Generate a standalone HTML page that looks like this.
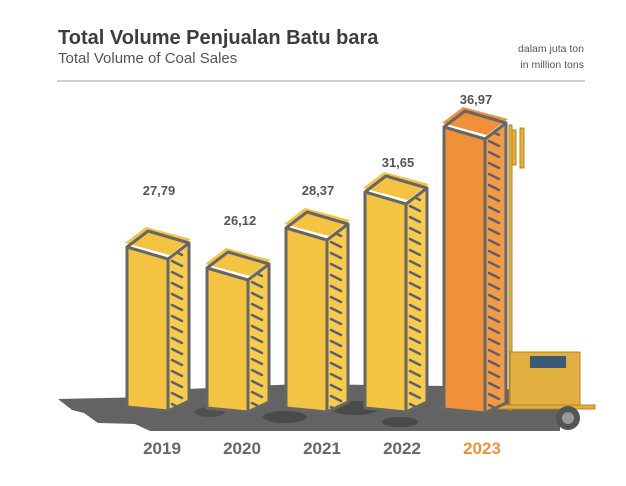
<!DOCTYPE html>
<html><head><meta charset="utf-8"><style>
body{margin:0;background:#fff;}
svg{display:block;font-family:"Liberation Sans",sans-serif;}
</style></head><body>
<svg width="626" height="486" viewBox="0 0 626 486">
<defs>
<pattern id="h" width="20" height="11" patternUnits="userSpaceOnUse">
<line x1="5" y1="3" x2="15" y2="8" stroke="#5c5f6e" stroke-width="2.5" stroke-linecap="round"/>
</pattern>
</defs>
<text x="58" y="44" font-size="20" font-weight="bold" fill="#3d3d3d">Total Volume Penjualan Batu bara</text>
<text x="58" y="63" font-size="15" fill="#555">Total Volume of Coal Sales</text>
<text x="584" y="52" font-size="10.5" fill="#555" text-anchor="end">dalam juta ton</text>
<text x="584" y="68" font-size="10.5" fill="#555" text-anchor="end">in million tons</text>
<line x1="57" y1="81" x2="585" y2="81" stroke="#cfcfcf" stroke-width="2"/>
<!-- ground -->
<path d="M58,399 L150,397 L165,390 L300,384 L450,386 L560,392 L560,431 L150,431 L135,424 L98,423 L84,413 L72,410 Z" fill="#636363"/>
<ellipse cx="285" cy="417" rx="22" ry="6" fill="#4a4a4a"/>
<ellipse cx="355" cy="408" rx="24" ry="7" fill="#4a4a4a"/>
<ellipse cx="400" cy="422" rx="18" ry="5" fill="#4a4a4a"/>
<ellipse cx="210" cy="412" rx="15" ry="5" fill="#505050"/>
<!-- trailer -->
<g fill="#e2b040" stroke="#b88420" stroke-width="1">
<rect x="509" y="125" width="3" height="285"/>
<rect x="512" y="130" width="4" height="35"/>
<rect x="520" y="128" width="4" height="40"/>
<rect x="510" y="352" width="70" height="55"/>
<rect x="455" y="405" width="140" height="4"/>
</g>
<rect x="530" y="356" width="36" height="12" fill="#3b5a78"/>
<circle cx="568" cy="418" r="12" fill="#555"/>
<circle cx="568" cy="418" r="6" fill="#999"/>
<!-- bars -->
<g stroke="#666" stroke-width="3" stroke-linejoin="round">
<g transform="translate(127,247)">
<path d="M-2,-4 L19,-20 L64,-8 L43,8 Z" fill="#f5c342" stroke="none"/>
<path d="M0,0 L41,12 L41,164 L0,160 Z" fill="#f5c342" stroke="none"/>
<path d="M41,12 L62,-4 L62,154 L41,164 Z" fill="#f8cb4c" stroke="none"/>
<path d="M41,12 L62,-4 L62,154 L41,164 Z" fill="url(#h)" stroke="none"/>
<path d="M0,0 L21,-16 L62,-4 L41,12 Z M0,0 L0,160 L41,164 L62,154 L62,-4 M41,12 L41,164" fill="none"/>
</g>
<g transform="translate(207,268)">
<path d="M-2,-4 L19,-20 L64,-8 L43,8 Z" fill="#f5c342" stroke="none"/>
<path d="M0,0 L41,12 L41,144 L0,140 Z" fill="#f5c342" stroke="none"/>
<path d="M41,12 L62,-4 L62,134 L41,144 Z" fill="#f8cb4c" stroke="none"/>
<path d="M41,12 L62,-4 L62,134 L41,144 Z" fill="url(#h)" stroke="none"/>
<path d="M0,0 L21,-16 L62,-4 L41,12 Z M0,0 L0,140 L41,144 L62,134 L62,-4 M41,12 L41,144" fill="none"/>
</g>
<g transform="translate(286,228)">
<path d="M-2,-4 L19,-20 L64,-8 L43,8 Z" fill="#f5c342" stroke="none"/>
<path d="M0,0 L41,12 L41,184 L0,180 Z" fill="#f5c342" stroke="none"/>
<path d="M41,12 L62,-4 L62,174 L41,184 Z" fill="#f8cb4c" stroke="none"/>
<path d="M41,12 L62,-4 L62,174 L41,184 Z" fill="url(#h)" stroke="none"/>
<path d="M0,0 L21,-16 L62,-4 L41,12 Z M0,0 L0,180 L41,184 L62,174 L62,-4 M41,12 L41,184" fill="none"/>
</g>
<g transform="translate(365,192)">
<path d="M-2,-4 L19,-20 L64,-8 L43,8 Z" fill="#f5c342" stroke="none"/>
<path d="M0,0 L41,12 L41,220 L0,216 Z" fill="#f5c342" stroke="none"/>
<path d="M41,12 L62,-4 L62,210 L41,220 Z" fill="#f8cb4c" stroke="none"/>
<path d="M41,12 L62,-4 L62,210 L41,220 Z" fill="url(#h)" stroke="none"/>
<path d="M0,0 L21,-16 L62,-4 L41,12 Z M0,0 L0,216 L41,220 L62,210 L62,-4 M41,12 L41,220" fill="none"/>
</g>
<g transform="translate(444,127)">
<path d="M-2,-4 L19,-20 L64,-8 L43,8 Z" fill="#f0913a" stroke="none"/>
<path d="M0,0 L41,12 L41,286 L0,282 Z" fill="#f0913a" stroke="none"/>
<path d="M41,12 L62,-4 L62,276 L41,286 Z" fill="#f39a45" stroke="none"/>
<path d="M41,12 L62,-4 L62,276 L41,286 Z" fill="url(#h)" stroke="none"/>
<path d="M0,0 L21,-16 L62,-4 L41,12 Z M0,0 L0,282 L41,286 L62,276 L62,-4 M41,12 L41,286" fill="none"/>
</g>
</g>
<g font-size="13" font-weight="bold" fill="#555" text-anchor="middle">
<text x="159" y="195">27,79</text>
<text x="240" y="225">26,12</text>
<text x="318" y="195">28,37</text>
<text x="398" y="167">31,65</text>
<text x="476" y="104">36,97</text>
</g>
<g font-size="17" font-weight="bold" text-anchor="middle" fill="#666">
<text x="162" y="454">2019</text>
<text x="242" y="454">2020</text>
<text x="322" y="454">2021</text>
<text x="402" y="454">2022</text>
<text x="482" y="454" fill="#f0913a">2023</text>
</g>
</svg>
</body></html>
